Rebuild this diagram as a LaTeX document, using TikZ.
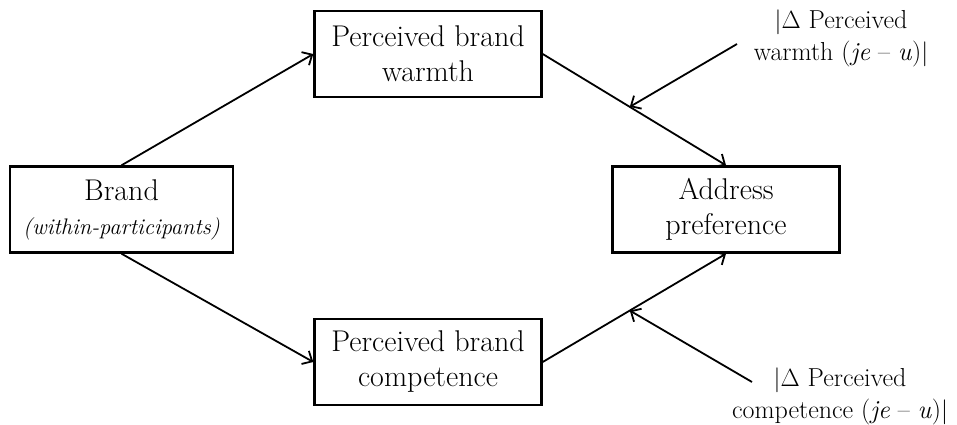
\documentclass[tikz,border=0pt]{standalone}
\usepackage{amsmath}
\usepackage{tikz}
\usetikzlibrary{calc}
\usetikzlibrary{arrows, arrows.meta, positioning}

\tikzset{
  construct/.style={draw, line width=2.4pt, align=center, inner sep=0pt,
    minimum width=227pt, minimum height=86pt,
    font=\fontsize{30}{35}\selectfont},
  moderator/.style={align=center, inner sep=0pt,
    font=\fontsize{26}{32}\selectfont},
  path/.style={->, line width=1.8pt},
}

\begin{document}
\begin{tikzpicture}[x=1pt, y=-1pt, >={Straight Barb[length=8pt, width=15pt, line width=1.8pt]}]
			\useasboundingbox (0,0) rectangle (957,425);
			
			% Constructs
			\node[construct, minimum width=223pt] (brand) at (121.5,209.5)
			{Brand\\[-1pt]{\fontsize{22.5}{28}\selectfont\itshape (within-participants)}};
			\node[construct] (warmth) at (428,54) {Perceived brand\\warmth};
			\node[construct] (competence) at (428,362) {Perceived brand\\competence};
			\node[construct] (address) at (726,209.5) {Address\\preference};
			
			% Moderators
			\node[moderator] (dwarmth) at (841,38) {$|\Delta$ Perceived\\warmth (\textit{je} -- \textit{u})$|$};
			\node[moderator] (dcompetence) at (840,396) {$|\Delta$ Perceived\\competence (\textit{je} -- \textit{u})$|$};
			\coordinate (tw) at (737,44);
			\coordinate (tc) at (752,382);
			
			% Main paths
			\draw[path] (brand.north) -- (warmth.west);
			\draw[path] (brand.south) -- (competence.west);
			\draw[path] (warmth.east) -- (address.north);
			\draw[path] (competence.east) -- (address.south);
			
			% Moderation
			\coordinate (mw) at ($(warmth.east)!0.475!(address.north)$);
			\coordinate (mc) at ($(competence.east)!0.475!(address.south)$);
			\draw[path] (tw) -- (mw);
			\draw[path] (tc) -- (mc);
		\end{tikzpicture}
\end{document}
